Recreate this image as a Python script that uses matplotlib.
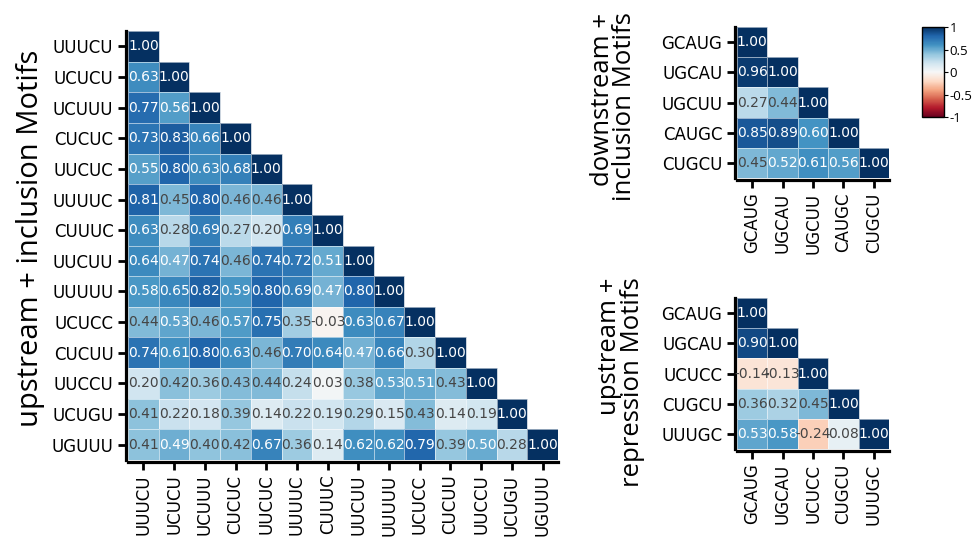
import numpy as np
import matplotlib
matplotlib.use("Agg")
import matplotlib.pyplot as plt

# lower-triangle correlation values, row by row
up_incl_labels = ["UUUCU", "UCUCU", "UCUUU", "CUCUC", "UUCUC", "UUUUC", "CUUUC",
                  "UUCUU", "UUUUU", "UCUCC", "CUCUU", "UUCCU", "UCUGU", "UGUUU"]
up_incl_rows = [
    [1.00],
    [0.63, 1.00],
    [0.77, 0.56, 1.00],
    [0.73, 0.83, 0.66, 1.00],
    [0.55, 0.80, 0.63, 0.68, 1.00],
    [0.81, 0.45, 0.80, 0.46, 0.46, 1.00],
    [0.63, 0.28, 0.69, 0.27, 0.20, 0.69, 1.00],
    [0.64, 0.47, 0.74, 0.46, 0.74, 0.72, 0.51, 1.00],
    [0.58, 0.65, 0.82, 0.59, 0.80, 0.69, 0.47, 0.80, 1.00],
    [0.44, 0.53, 0.46, 0.57, 0.75, 0.35, -0.03, 0.63, 0.67, 1.00],
    [0.74, 0.61, 0.80, 0.63, 0.46, 0.70, 0.64, 0.47, 0.66, 0.30, 1.00],
    [0.20, 0.42, 0.36, 0.43, 0.44, 0.24, 0.03, 0.38, 0.53, 0.51, 0.43, 1.00],
    [0.41, 0.22, 0.18, 0.39, 0.14, 0.22, 0.19, 0.29, 0.15, 0.43, 0.14, 0.19, 1.00],
    [0.41, 0.49, 0.40, 0.42, 0.67, 0.36, 0.14, 0.62, 0.62, 0.79, 0.39, 0.50, 0.28, 1.00],
]

down_incl_labels = ["GCAUG", "UGCAU", "UGCUU", "CAUGC", "CUGCU"]
down_incl_rows = [
    [1.00],
    [0.96, 1.00],
    [0.27, 0.44, 1.00],
    [0.85, 0.89, 0.60, 1.00],
    [0.45, 0.52, 0.61, 0.56, 1.00],
]

up_rep_labels = ["GCAUG", "UGCAU", "UCUCC", "CUGCU", "UUUGC"]
up_rep_rows = [
    [1.00],
    [0.90, 1.00],
    [-0.14, -0.13, 1.00],
    [0.36, 0.32, 0.45, 1.00],
    [0.53, 0.58, -0.24, 0.08, 1.00],
]

cbar_ticks = [-1, -0.5, 0, 0.5, 1]

label_font = "Open Sans"
cmap = plt.get_cmap("RdBu")


def to_matrix(rows):
    n = len(rows)
    m = np.full((n, n), np.nan)
    for i, r in enumerate(rows):
        m[i, :len(r)] = r
    return np.ma.masked_invalid(m)


def tri_heatmap(ax, rows, labels, fs=10):
    m = to_matrix(rows)
    n = len(labels)
    mesh = ax.pcolormesh(m, cmap=cmap, vmin=-1, vmax=1,
                         edgecolors=(1, 1, 1, 0.55), linewidth=0.6)
    for i, r in enumerate(rows):
        for j, v in enumerate(r):
            col = "white" if abs(v) >= 0.465 else "#454545"
            ax.text(j + 0.5, i + 0.5, "%.2f" % v, ha="center", va="center",
                    fontsize=fs, color=col, family="DejaVu Sans")
    ax.set_xlim(0, n)
    ax.set_ylim(n, 0)
    ax.set_xticks(np.arange(n) + 0.5)
    ax.set_yticks(np.arange(n) + 0.5)
    ax.set_xticklabels(labels)
    ax.set_yticklabels(labels)
    for s in ["top", "right"]:
        ax.spines[s].set_visible(False)
    for s in ["left", "bottom"]:
        ax.spines[s].set_linewidth(2.3)
        ax.spines[s].set_position(("outward", 1.5))
    ax.tick_params(length=6, width=2, pad=3, labelsize=12)
    ax.tick_params(axis="x", labelrotation=90)
    return mesh


fig = plt.figure(figsize=(9.75, 5.41), dpi=100)

ax_big = fig.add_axes([0.1313, 0.1497, 0.441, 0.793])
mesh = tri_heatmap(ax_big, up_incl_rows, up_incl_labels)

ax_top = fig.add_axes([0.7559, 0.671, 0.1559, 0.279])
tri_heatmap(ax_top, down_incl_rows, down_incl_labels)

ax_bot = fig.add_axes([0.7559, 0.170, 0.1559, 0.279])
tri_heatmap(ax_bot, up_rep_rows, up_rep_labels)

# axis titles
fig.text(0.031, 0.56, "upstream + inclusion Motifs", rotation=90, ha="center",
         va="center", fontsize=21, family=label_font)
fig.text(0.629, 0.977, "downstream +\ninclusion Motifs", rotation=90, ha="center",
         va="top", multialignment="right", fontsize=18.5, family=label_font,
         linespacing=0.85)
fig.text(0.637, 0.487, "upstream +\nrepression Motifs", rotation=90, ha="center",
         va="top", multialignment="right", fontsize=18.5, family=label_font,
         linespacing=0.85)

# colour bar
cax = fig.add_axes([0.9456, 0.7837, 0.0226, 0.1664])
cb = fig.colorbar(mesh, cax=cax, ticks=cbar_ticks)
cb.outline.set_linewidth(1.0)
cb.ax.set_yticklabels([("%g" % t).replace("\u2212", "-") for t in cbar_ticks],
                      family=label_font, fontsize=9.5)
cb.ax.tick_params(length=3, width=0.8, pad=1)

fig.savefig("out.png", dpi=100)
